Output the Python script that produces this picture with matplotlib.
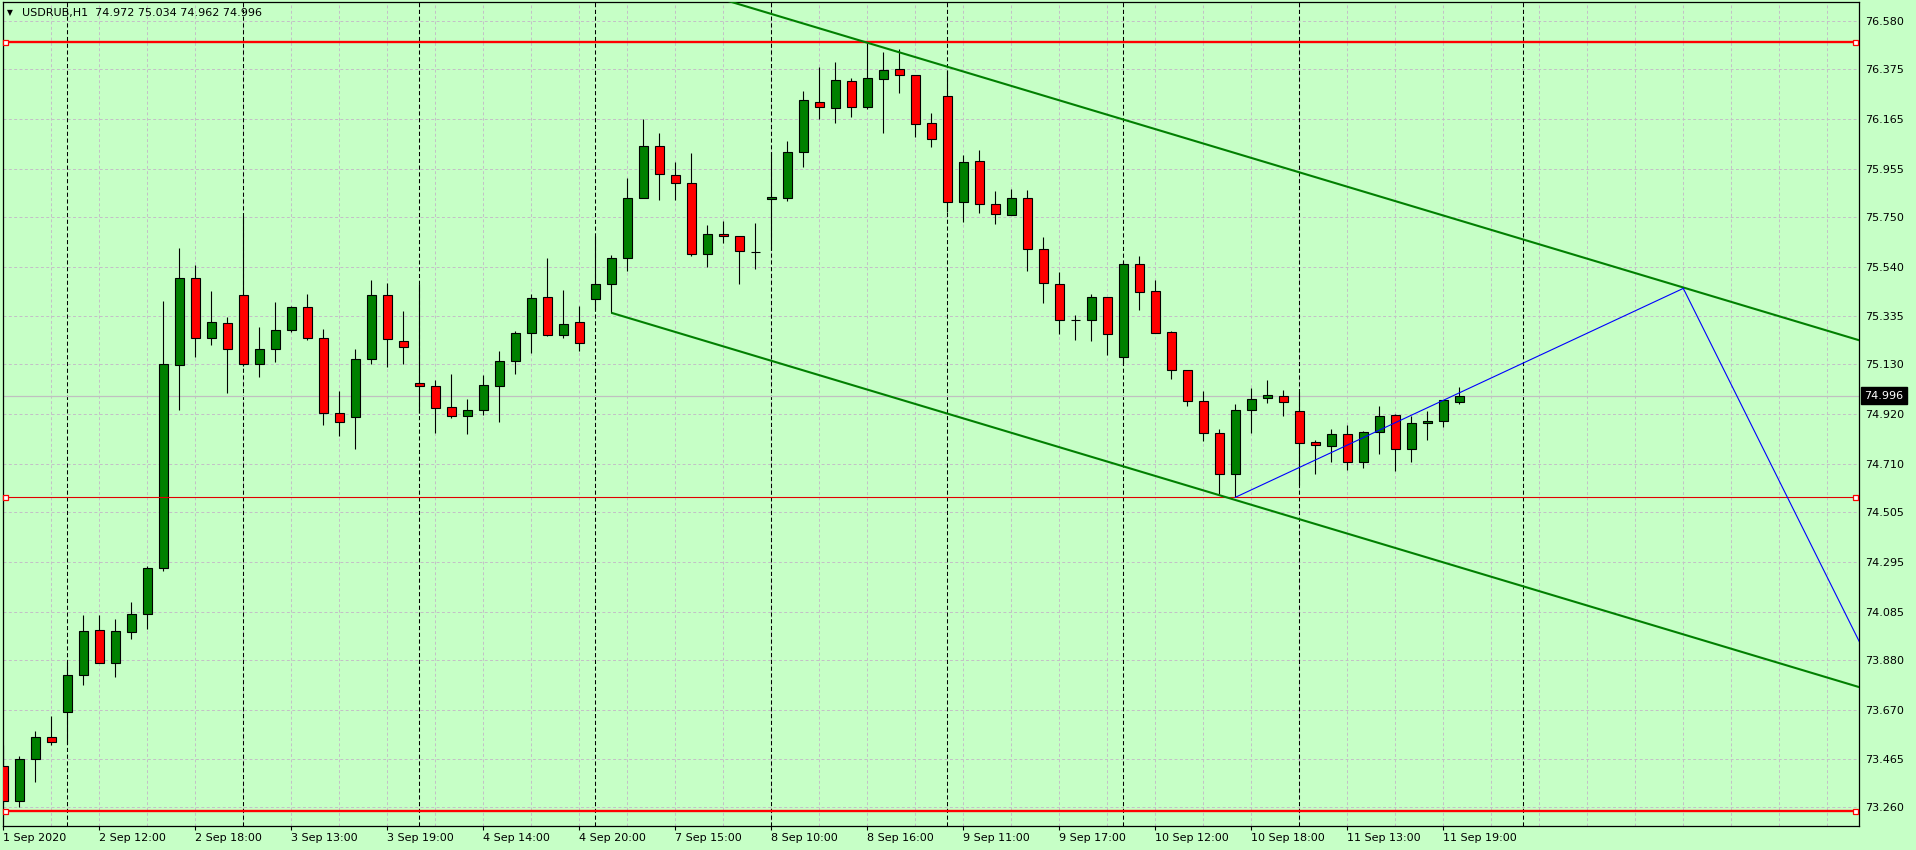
import matplotlib
matplotlib.use("Agg")
import matplotlib.pyplot as plt
from matplotlib.transforms import blended_transform_factory

# ---------------- data ----------------
symbol_title = "USDRUB,H1  74.972 75.034 74.962 74.996"

opens = [73.435, 73.286, 73.465, 73.557, 73.662, 73.818, 74.006, 73.869, 74.000, 74.076,
         74.270, 75.125, 75.493, 75.239, 75.305, 75.421, 75.129, 75.193, 75.276, 75.370,
         75.239, 74.923, 74.906, 75.151, 75.421, 75.227, 75.049, 75.037, 74.948, 74.910,
         74.935, 75.037, 75.142, 75.260, 75.412, 75.252, 75.307, 75.404, 75.467, 75.579,
         75.830, 76.050, 75.927, 75.894, 75.594, 75.678, 75.670, 75.605, 75.826, 75.833,
         76.024, 76.235, 76.210, 76.324, 76.214, 76.333, 76.375, 76.349, 76.147, 76.261,
         75.813, 75.986, 75.805, 75.758, 75.830, 75.615, 75.467, 75.316, 75.318, 75.412,
         75.162, 75.552, 75.438, 75.264, 75.104, 74.973, 74.838, 74.665, 74.935, 74.986,
         74.994, 74.932, 74.800, 74.786, 74.834, 74.718, 74.845, 74.914, 74.773, 74.880,
         74.889, 74.972]
highs = [73.521, 73.477, 73.582, 73.643, 73.871, 74.070, 74.070, 74.053, 74.128, 74.279,
         75.396, 75.620, 75.549, 75.438, 75.330, 75.755, 75.287, 75.393, 75.376, 75.425,
         75.277, 75.017, 75.194, 75.485, 75.473, 75.355, 75.467, 75.063, 75.089, 74.983,
         75.084, 75.186, 75.270, 75.425, 75.577, 75.443, 75.374, 75.671, 75.590, 75.916,
         76.165, 76.106, 75.983, 76.021, 75.717, 75.734, 75.670, 75.726, 76.026, 76.072,
         76.283, 76.384, 76.405, 76.337, 76.487, 76.448, 76.460, 76.349, 76.189, 76.372,
         76.013, 76.034, 75.861, 75.869, 75.865, 75.667, 75.519, 75.337, 75.426, 75.412,
         75.561, 75.587, 75.485, 75.270, 75.104, 75.016, 74.855, 74.962, 75.029, 75.063,
         75.020, 75.013, 74.810, 74.856, 74.873, 74.848, 74.953, 74.918, 74.912, 74.932,
         74.978, 75.034]
lows = [73.272, 73.260, 73.368, 73.522, 73.526, 73.776, 73.869, 73.810, 73.971, 74.013,
        74.258, 74.937, 75.162, 75.209, 75.009, 75.124, 75.077, 75.139, 75.267, 75.234,
        74.875, 74.828, 74.771, 75.129, 75.120, 75.132, 74.925, 74.840, 74.904, 74.837,
        74.914, 74.887, 75.090, 75.178, 75.250, 75.240, 75.187, 75.360, 75.347, 75.525,
        75.830, 75.824, 75.824, 75.588, 75.541, 75.643, 75.470, 75.533, 75.611, 75.820,
        75.964, 76.166, 76.149, 76.173, 76.208, 76.107, 76.276, 76.090, 76.048, 75.774,
        75.731, 75.769, 75.723, 75.758, 75.525, 75.390, 75.259, 75.232, 75.229, 75.169,
        75.127, 75.360, 75.260, 75.066, 74.955, 74.807, 74.582, 74.568, 74.841, 74.967,
        74.913, 74.620, 74.666, 74.717, 74.683, 74.692, 74.751, 74.679, 74.717, 74.810,
        74.866, 74.962]
closes = [73.286, 73.465, 73.557, 73.535, 73.820, 74.002, 73.869, 74.002, 74.077, 74.268,
          75.130, 75.493, 75.239, 75.310, 75.193, 75.130, 75.193, 75.273, 75.370, 75.239,
          74.923, 74.885, 75.151, 75.421, 75.235, 75.201, 75.037, 74.947, 74.910, 74.935,
          75.041, 75.142, 75.260, 75.408, 75.254, 75.298, 75.218, 75.467, 75.577, 75.830,
          76.050, 75.932, 75.894, 75.594, 75.678, 75.670, 75.606, 75.605, 75.834, 76.024,
          76.244, 76.214, 76.328, 76.214, 76.337, 76.371, 76.349, 76.143, 76.079, 75.813,
          75.982, 75.805, 75.763, 75.830, 75.615, 75.471, 75.315, 75.316, 75.412, 75.256,
          75.552, 75.433, 75.260, 75.104, 74.973, 74.838, 74.665, 74.935, 74.982, 74.999,
          74.972, 74.799, 74.790, 74.834, 74.718, 74.842, 74.910, 74.773, 74.880, 74.890,
          74.978, 74.996]

time_tick_bars = [0, 6, 12, 18, 24, 30, 36, 42, 48, 54, 60, 66, 72, 78, 84, 90]
time_tick_labels = ["1 Sep 2020", "2 Sep 12:00", "2 Sep 18:00", "3 Sep 13:00", "3 Sep 19:00",
                    "4 Sep 14:00", "4 Sep 20:00", "7 Sep 15:00", "8 Sep 10:00", "8 Sep 16:00",
                    "9 Sep 11:00", "9 Sep 17:00", "10 Sep 12:00", "10 Sep 18:00",
                    "11 Sep 13:00", "11 Sep 19:00"]
price_ticks = [76.580, 76.375, 76.165, 75.955, 75.750, 75.540, 75.335, 75.130, 74.920,
               74.710, 74.505, 74.295, 74.085, 73.880, 73.670, 73.465, 73.260]
day_separator_bars = [4, 15, 26, 37, 48, 59, 70, 81, 95]
grid_step_bars = 3

current_price = 74.996
hline_strong = [76.492, 73.245]      # thick red horizontal lines
hline_thin = [74.568]                # thin red horizontal line

channel_base_bars = [38.0, 81.04]    # lower channel line anchors
channel_base_prices = [75.347, 74.475]
channel_third_bar = 54               # upper line passes through this high
channel_third_price = 76.487

blue_bars = [77.0, 105.0, 116.0]
blue_prices = [74.568, 75.450, 73.959]

# ---------------- styling ----------------
BG = "#C6FFC6"
UP = "#008000"
DOWN = "#FF0000"
GRID = "#C3BFC6"
FONT = "DejaVu Sans"
FS = 8

W, H = 1916, 850
fig = plt.figure(figsize=(W / 100, H / 100), dpi=100, facecolor=BG)

left_px, right_px, top_px, bottom_px = 2.5, 1859.3, 1.5, 826.0
ax = fig.add_axes([left_px / W, 1 - bottom_px / H,
                   (right_px - left_px) / W, (bottom_px - top_px) / H])
ax.set_facecolor(BG)

x_left, x_right = -0.05, 116.0
y_bot, y_top = 73.1806, 76.661
ax.set_xlim(x_left, x_right)
ax.set_ylim(y_bot, y_top)

# grid
for p in price_ticks:
    ax.axhline(p, color=GRID, lw=0.7, ls=(0, (3, 2.5)), zorder=1)
gx = 0
while gx <= x_right:
    ax.axvline(gx, color=GRID, lw=0.7, ls=(0, (3, 2.5)), zorder=1)
    gx += grid_step_bars
for b in day_separator_bars:
    ax.axvline(b, color="black", lw=0.75, ls=(0, (4, 2.5)), zorder=1.5)

# current price line
ax.axhline(current_price, color="#C0C0C0", lw=0.9, zorder=2)

# candles
xs = list(range(len(opens)))
ax.vlines(xs, lows, highs, color="black", lw=0.8, zorder=3)
bottoms = [min(o, c) for o, c in zip(opens, closes)]
heights = [abs(c - o) for o, c in zip(opens, closes)]
colors = [UP if c > o else (DOWN if c < o else "black") for o, c in zip(opens, closes)]
ax.bar(xs, heights, bottom=bottoms, width=0.6, color=colors, edgecolor="black",
       linewidth=0.8, zorder=4)

# horizontal red lines with edge markers
mk_x = [0.11, 115.76]
for p in hline_strong:
    ax.axhline(p, color="#FF0000", lw=1.7, zorder=6)
    ax.plot(mk_x, [p, p], ls="none", marker="s", ms=3.6, mfc="white", mec="#FF0000",
            mew=0.9, zorder=7, clip_on=False)
for p in hline_thin:
    ax.axhline(p, color="#E00000", lw=0.8, zorder=6)
    ax.plot(mk_x, [p, p], ls="none", marker="s", ms=3.6, mfc="white", mec="#FF0000",
            mew=0.9, zorder=7, clip_on=False)

# equidistant channel
slope = (channel_base_prices[1] - channel_base_prices[0]) / (channel_base_bars[1] - channel_base_bars[0])
offset = channel_third_price - (channel_base_prices[0] + slope * (channel_third_bar - channel_base_bars[0]))
cx = [channel_base_bars[0], x_right + 5]
lo = [channel_base_prices[0] + slope * (x - channel_base_bars[0]) for x in cx]
hi = [v + offset for v in lo]
ax.plot(cx, lo, color="#008000", lw=1.5, zorder=6, solid_capstyle="butt")
ax.plot(cx, hi, color="#008000", lw=1.5, zorder=6, solid_capstyle="butt")

# blue zig-zag line
ax.plot(blue_bars, blue_prices, color="#0000FF", lw=0.8, zorder=6)

# axes / ticks
for s in ax.spines.values():
    s.set_color("black")
    s.set_linewidth(0.9)
ax.set_xticks(time_tick_bars)
ax.set_xticklabels(time_tick_labels, ha="left", fontsize=FS, family=FONT)
ax.tick_params(axis="x", length=3, width=0.8, pad=2, color="black")
ax.yaxis.tick_right()
ax.set_yticks(price_ticks)
ax.set_yticklabels([f"{p:.3f}" for p in price_ticks], fontsize=FS, family=FONT)
ax.tick_params(axis="y", length=0, pad=4)

# current price box
tr = blended_transform_factory(ax.transAxes, ax.transData)
ax.text(1.0 + 5 / (right_px - left_px), current_price, f"{current_price:.3f}",
        transform=tr, ha="left", va="center", color="white", fontsize=FS, family=FONT,
        bbox=dict(boxstyle="square,pad=0.32", fc="black", ec="black"), zorder=10,
        clip_on=False)

# title
fig.text(7 / W, 1 - 12.5 / H, "\u25BC", fontsize=5.5, family=[FONT], va="center", ha="left")
fig.text(21.5 / W, 1 - 12.7 / H, symbol_title, fontsize=FS, family=FONT,
         va="center", ha="left")

fig.savefig("out.png", dpi=100, facecolor=BG)
